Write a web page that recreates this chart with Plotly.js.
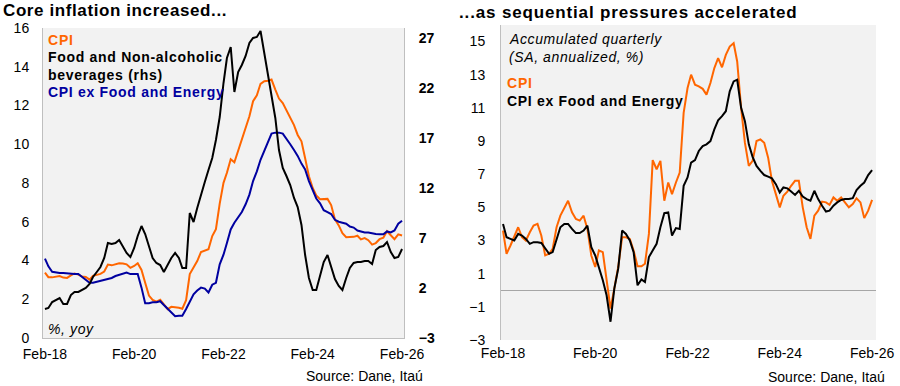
<!DOCTYPE html>
<html>
<head>
<meta charset="utf-8">
<script src="https://cdn.plot.ly/plotly-3.0.1.min.js"></script>
<style>
  html, body { margin: 0; padding: 0; background: #fff; }
  #chart { width: 900px; height: 386px; }
</style>
</head>
<body>
<div id="chart"></div>
<script>
// Monthly observations, Feb-2018 .. Feb-2026
const startYear = 2018, startMonth = 2, nObs = 97;

// Left panel: % yoy
const cpiYoY = [
  3.37, 3.14, 3.13, 3.16, 3.20, 3.12, 3.10, 3.23, 3.33, 3.27, 3.18,
  3.15, 3.01, 3.21, 3.25, 3.31, 3.43, 3.79, 3.75, 3.82, 3.86, 3.84, 3.80,
  3.62, 3.72, 3.86, 3.51, 2.85, 2.19, 1.97, 1.88, 1.97, 1.75, 1.49, 1.61,
  1.60, 1.56, 1.51, 1.95, 3.30, 3.63, 3.97, 4.44, 4.51, 4.58, 5.26, 5.62,
  6.94, 8.01, 8.53, 9.23, 9.07, 9.67, 10.21, 10.84, 11.44, 12.22, 12.53, 13.12,
  13.25, 13.28, 13.34, 12.82, 12.36, 12.13, 11.78, 11.43, 10.99, 10.48, 10.15, 9.28,
  8.35, 7.74, 7.36, 7.16, 7.16, 7.18, 6.86, 6.12, 5.81, 5.41, 5.20, 5.20,
  5.22, 5.28, 5.09, 5.16, 5.05, 4.82, 4.90, 5.10, 5.18, 5.51, 5.30, 5.10,
  5.35, 5.29
];
const foodYoY = [
  -0.1, 0.0, 0.6, 0.8, 1.0, 0.4, 0.4, 1.3, 1.6, 1.6, 1.8,
  2.0, 2.4, 3.1, 3.6, 4.1, 5.0, 6.5, 6.4, 6.5, 6.8, 6.1, 5.5,
  5.1, 6.0, 7.2, 8.2, 7.4, 6.2, 5.0, 4.5, 4.3, 3.6, 4.4, 5.0,
  5.5, 5.0, 4.0, 4.0, 9.5, 8.6, 10.0, 11.4, 12.6, 13.8, 15.0, 16.8,
  19.1, 22.5, 25.0, 26.1, 21.6, 23.6, 24.3, 25.2, 26.5, 27.0, 27.1, 27.7,
  25.5, 23.0, 21.0, 19.0, 15.8, 14.0, 13.2, 12.3, 11.0, 10.1, 8.3, 5.3,
  3.0, 1.8, 1.8, 3.2, 4.6, 5.3, 4.0, 2.9, 2.2, 1.8, 3.0, 4.0,
  4.5, 4.6, 4.6, 4.7, 4.7, 4.4, 5.8, 6.1, 6.2, 6.6, 5.6, 5.0,
  5.1, 5.9
];
const coreYoY = [
  4.1, 3.7, 3.42, 3.38, 3.35, 3.35, 3.33, 3.3, 3.3, 3.3, 3.15,
  3.0, 2.85, 2.85, 2.9, 2.95, 3.0, 3.05, 3.1, 3.2, 3.25, 3.3, 3.38,
  3.3, 3.3, 3.3, 2.6, 1.8, 1.8, 1.85, 1.85, 1.9, 1.7, 1.5, 1.35,
  1.12, 1.15, 1.15, 1.5, 1.9, 2.25, 2.45, 2.6, 2.55, 2.35, 2.75, 2.85,
  3.8, 4.3, 4.9, 5.6, 5.95, 6.2, 6.5, 6.9, 7.4, 8.1, 8.6, 9.2,
  9.7, 10.2, 10.55, 10.6, 10.6, 10.55, 10.3, 10.0, 9.7, 9.4, 9.0, 8.7,
  8.1, 7.6, 7.2, 6.95, 6.6, 6.5, 6.4, 6.1, 6.0, 5.95, 5.9, 5.75,
  5.7, 5.55, 5.5, 5.45, 5.45, 5.4, 5.37, 5.35, 5.35, 5.5, 5.45, 5.55,
  5.9, 6.05
];

// Right panel: accumulated quarterly, SA annualized, %
const cpiQ = [
  3.6, 2.2, 2.7, 3.2, 3.8, 3.2, 3.0, 3.5, 3.9, 4.0, 3.3,
  2.1, 2.2, 2.5, 3.8, 4.5, 5.0, 5.4, 4.7, 4.3, 4.2, 4.5, 3.7,
  2.1, 1.4, 2.4, 2.3, 0.5, -1.1, 0.1, 1.4, 3.2, 3.2, 3.1, 2.4,
  1.45, 1.45, 1.6, 3.4, 7.85, 7.3, 7.8, 5.4, 6.5, 5.8, 6.5, 7.1,
  10.7, 12.2, 13.0, 12.4, 12.3, 12.15, 11.8, 12.5, 13.4, 14.0, 13.45, 14.2,
  14.7, 14.9, 13.8, 11.0, 8.9, 7.5, 7.8, 9.0, 9.1, 8.9, 8.0, 6.6,
  5.8, 5.0, 5.7, 5.95, 6.3, 6.6, 6.6, 5.0, 3.8, 3.1, 4.5, 4.8,
  5.35, 5.3, 5.15, 5.6, 5.4, 5.6, 5.3, 5.0, 5.2, 5.55, 5.3, 4.35,
  4.8, 5.45
];
const coreQ = [
  4.0, 3.2, 3.1, 3.0, 3.4, 3.3, 3.1, 2.8, 2.9, 2.9, 2.85,
  2.55, 2.2, 2.3, 3.0, 3.8, 4.0, 4.0, 3.7, 3.45, 3.45, 3.6, 3.9,
  2.6, 2.1, 1.4, 0.6, -0.3, -1.9, 0.1, 1.3, 3.6, 3.4, 3.0, 2.3,
  0.3, 0.65, 0.5, 2.0, 2.4, 2.8, 3.8, 4.65, 4.7, 3.3, 3.75, 3.7,
  6.3, 6.8, 7.7, 7.85, 8.4, 8.7, 8.8, 9.0, 9.7, 10.25, 10.5, 10.8,
  12.0, 12.6, 12.7, 11.0, 10.2, 8.8, 8.05, 7.5, 7.2, 6.95, 6.85, 6.75,
  6.4, 5.9, 6.2, 6.15, 5.95, 5.75, 6.0, 5.65, 5.5, 5.4, 6.0, 5.5,
  5.1, 4.75, 4.8, 5.1, 5.3, 5.45, 5.5, 5.5, 5.55, 6.05, 6.3, 6.5,
  6.95, 7.25
];

const xTickVals = ['2018-02-01', '2020-02-01', '2022-02-01', '2024-02-01', '2026-02-01'];
const xTickText = ['Feb-18', 'Feb-20', 'Feb-22', 'Feb-24', 'Feb-26'];
const leftTicks = [0, 2, 4, 6, 8, 10, 12, 14, 16];
const rhsTicks = [-3, 2, 7, 12, 17, 22, 27];
const rightTicks = [-3, -1, 1, 3, 5, 7, 9, 11, 13, 15];

const dates = [];
for (let i = 0; i < nObs; i++) {
  const m0 = startMonth - 1 + i;
  const y = startYear + Math.floor(m0 / 12);
  const m = (m0 % 12) + 1;
  dates.push(y + '-' + String(m).padStart(2, '0') + '-01');
}

const ORANGE = '#FF6600', NAVY = '#0000A0', BLACK = '#000000';
const FONT = 'Liberation Sans, Arial, sans-serif';

const traces = [
  { x: dates, y: foodYoY, xaxis: 'x', yaxis: 'y2', type: 'scatter', mode: 'lines',
    line: { color: BLACK, width: 2 }, name: 'Food and Non-alcoholic beverages (rhs)' },
  { x: dates, y: cpiYoY, xaxis: 'x', yaxis: 'y', type: 'scatter', mode: 'lines',
    line: { color: ORANGE, width: 2 }, name: 'CPI' },
  { x: dates, y: coreYoY, xaxis: 'x', yaxis: 'y', type: 'scatter', mode: 'lines',
    line: { color: NAVY, width: 2 }, name: 'CPI ex Food and Energy' },
  { x: dates, y: cpiQ, xaxis: 'x3', yaxis: 'y3', type: 'scatter', mode: 'lines',
    line: { color: ORANGE, width: 2 }, name: 'CPI' },
  { x: dates, y: coreQ, xaxis: 'x3', yaxis: 'y3', type: 'scatter', mode: 'lines',
    line: { color: BLACK, width: 2 }, name: 'CPI ex Food and Energy' }
];

const W = 900, H = 386;
const px = v => v / W;
const py = v => 1 - v / H;

const tickFont = { family: FONT, size: 14, color: '#000' };
const xCommon = {
  type: 'date', tickvals: xTickVals, ticktext: xTickText, showgrid: false,
  zeroline: false, ticks: '', tickfont: tickFont, fixedrange: true
};

function sp(text, ls) {
  return '<span style="letter-spacing:' + ls + 'px">' + text + '</span>';
}
function ann(text, x, y, color, opts) {
  return Object.assign({
    text: text, x: px(x), y: py(y), xref: 'paper', yref: 'paper',
    xanchor: 'left', yanchor: 'middle', showarrow: false,
    font: { family: FONT, size: 14, color: color }
  }, opts || {});
}

const layout = {
  width: W, height: H,
  margin: { l: 0, r: 0, t: 0, b: 0 },
  paper_bgcolor: '#ffffff',
  plot_bgcolor: '#F2F2F2',
  showlegend: false,
  hovermode: false,
  font: { family: FONT, size: 14, color: '#000' },
  xaxis: Object.assign({}, xCommon, {
    domain: [px(43), px(404)], anchor: 'y',
    range: ['2018-01-16', '2026-02-17'],
    showline: true, linecolor: '#BFBFBF', linewidth: 1, mirror: false,
    ticklabelstandoff: 3
  }),
  yaxis: {
    domain: [py(338), py(28)], anchor: 'x', range: [0, 16],
    tickvals: leftTicks, showgrid: false, zeroline: false, ticks: '',
    showline: true, linecolor: '#BFBFBF', linewidth: 1,
    tickfont: tickFont, ticklabelstandoff: 10, fixedrange: true
  },
  yaxis2: {
    domain: [py(338), py(28)], anchor: 'x', overlaying: 'y', side: 'right',
    range: [-3, 28], tickvals: rhsTicks, showgrid: false, zeroline: false, ticks: '',
    showline: true, linecolor: '#BFBFBF', linewidth: 1,
    tickfont: { family: FONT, size: 14, color: '#000', weight: 'bold' },
    ticklabelstandoff: 11, fixedrange: true
  },
  xaxis3: Object.assign({}, xCommon, {
    domain: [px(501), px(876)], anchor: 'y3',
    range: ['2018-01-16', '2026-03-04'],
    showline: false, ticklabelstandoff: 3
  }),
  yaxis3: {
    domain: [py(340), py(25)], anchor: 'x3', range: [-3, 16],
    tickvals: rightTicks, showgrid: false, ticks: '',
    zeroline: true, zerolinecolor: '#A6A6A6', zerolinewidth: 1,
    showline: true, linecolor: '#BFBFBF', linewidth: 1,
    tickfont: tickFont, ticklabelstandoff: 12, fixedrange: true
  },
  annotations: [
    ann('<b>' + sp('Core inflation increased...', 0.6) + '</b>', 1, 11, '#000', { font: { family: FONT, size: 17, color: '#000' } }),
    ann('<b>' + sp('...as sequential pressures accelerated', 0.85) + '</b>', 457, 12, '#000', { font: { family: FONT, size: 17, color: '#000' } }),
    ann('<b>' + sp('CPI', 0.8) + '</b>', 46, 40, ORANGE),
    ann('<b>' + sp('Food and Non-alcoholic', 0.7) + '</b>', 46, 57, BLACK),
    ann('<b>' + sp('beverages (rhs)', 0.7) + '</b>', 46, 75, BLACK),
    ann('<b>' + sp('CPI ex Food and Energy', 0.7) + '</b>', 46, 92, NAVY),
    ann('<i>' + sp('%, yoy', 0.6) + '</i>', 46, 329, BLACK),
    ann('<i>' + sp('Accumulated quarterly', 0.6) + '</i>', 507, 39, BLACK),
    ann('<i>' + sp('(SA, annualized, %)', 0.6) + '</i>', 507, 57, BLACK),
    ann('<b>' + sp('CPI', 0.8) + '</b>', 505, 83, ORANGE),
    ann('<b>' + sp('CPI ex Food and Energy', 0.7) + '</b>', 505, 101, BLACK),
    ann('Source: Dane, Itaú', 425, 376, BLACK, { xanchor: 'right' }),
    ann('Source: Dane, Itaú', 887, 377, BLACK, { xanchor: 'right' })
  ]
};

Plotly.newPlot('chart', traces, layout, { staticPlot: true, displayModeBar: false });
</script>
</body>
</html>
